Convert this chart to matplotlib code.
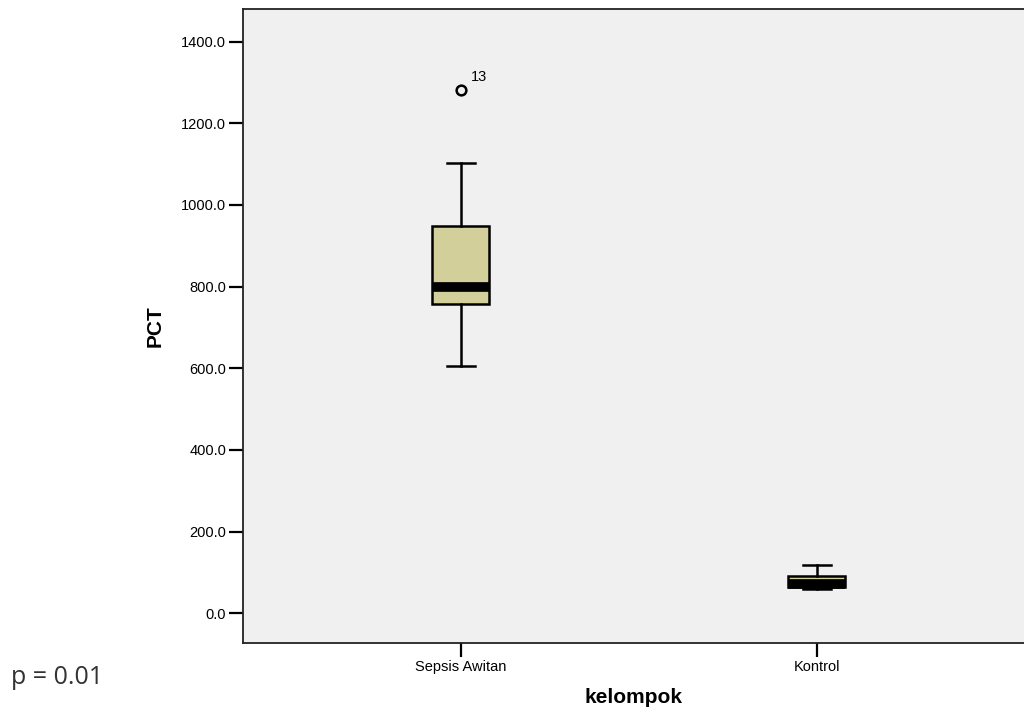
import matplotlib
matplotlib.use("Agg")
import matplotlib.pyplot as plt

# grup dan statistik kotak
kelompok = ["Sepsis Awitan", "Kontrol"]
q1 = [757, 64]
median = [799, 71]
q3 = [949, 90]
whislo = [605, 60]
whishi = [1103, 118]
outliers = [[1282], []]
outlier_labels = [["13"], []]

yticks = [0, 200, 400, 600, 800, 1000, 1200, 1400]

stats = []
for i in range(len(kelompok)):
    stats.append(dict(label=kelompok[i], q1=q1[i], med=median[i], q3=q3[i],
                      whislo=whislo[i], whishi=whishi[i], fliers=outliers[i]))

fig = plt.figure(figsize=(10.24, 7.13), dpi=100)
ax = fig.add_axes([243/1024, 1-643/713, 781/1024, 634/713])
ax.set_facecolor("#f0f0f0")

ax.bxp(stats, positions=[1, 2], widths=0.16, patch_artist=True,
       boxprops=dict(facecolor="#d3cf9b", edgecolor="black", linewidth=1.8),
       medianprops=dict(color="black", linewidth=7, solid_capstyle="butt"),
       whiskerprops=dict(color="black", linewidth=1.8),
       capprops=dict(color="black", linewidth=1.8),
       flierprops=dict(marker="o", markerfacecolor="none", markeredgecolor="black",
                       markersize=7, markeredgewidth=1.8))

for i in range(len(kelompok)):
    for v, t in zip(outliers[i], outlier_labels[i]):
        ax.annotate(t, (i + 1, v), xytext=(7, 6), textcoords="offset points",
                    fontsize=10.5, fontfamily="Liberation Sans")

ax.set_xlim(0.388, 2.582)
ax.set_ylim(-73, 1480)
ax.set_yticks(yticks)
ax.set_yticklabels([f"{v:.1f}" for v in yticks])
ax.tick_params(axis="both", direction="out", length=10, width=1.6, labelsize=10.5, pad=2)
ax.set_xticks([1, 2])
ax.set_xticklabels(kelompok)
for lab in ax.get_xticklabels() + ax.get_yticklabels():
    lab.set_fontfamily("Liberation Sans")
ax.spines["right"].set_visible(False)
for s in ["left", "top", "bottom"]:
    ax.spines[s].set_linewidth(1.3)
    ax.spines[s].set_color("#222222")

ax.set_ylabel("PCT", fontsize=15, fontweight="bold", fontfamily="Liberation Sans", labelpad=12)
ax.set_xlabel("kelompok", fontsize=15, fontweight="bold", fontfamily="Liberation Sans", labelpad=10)

fig.text(11/1024, 1-677/713, "p = 0.01", fontsize=18, fontfamily="Open Sans",
         va="center", ha="left", color="#333333")

fig.savefig("out.png", dpi=100)
